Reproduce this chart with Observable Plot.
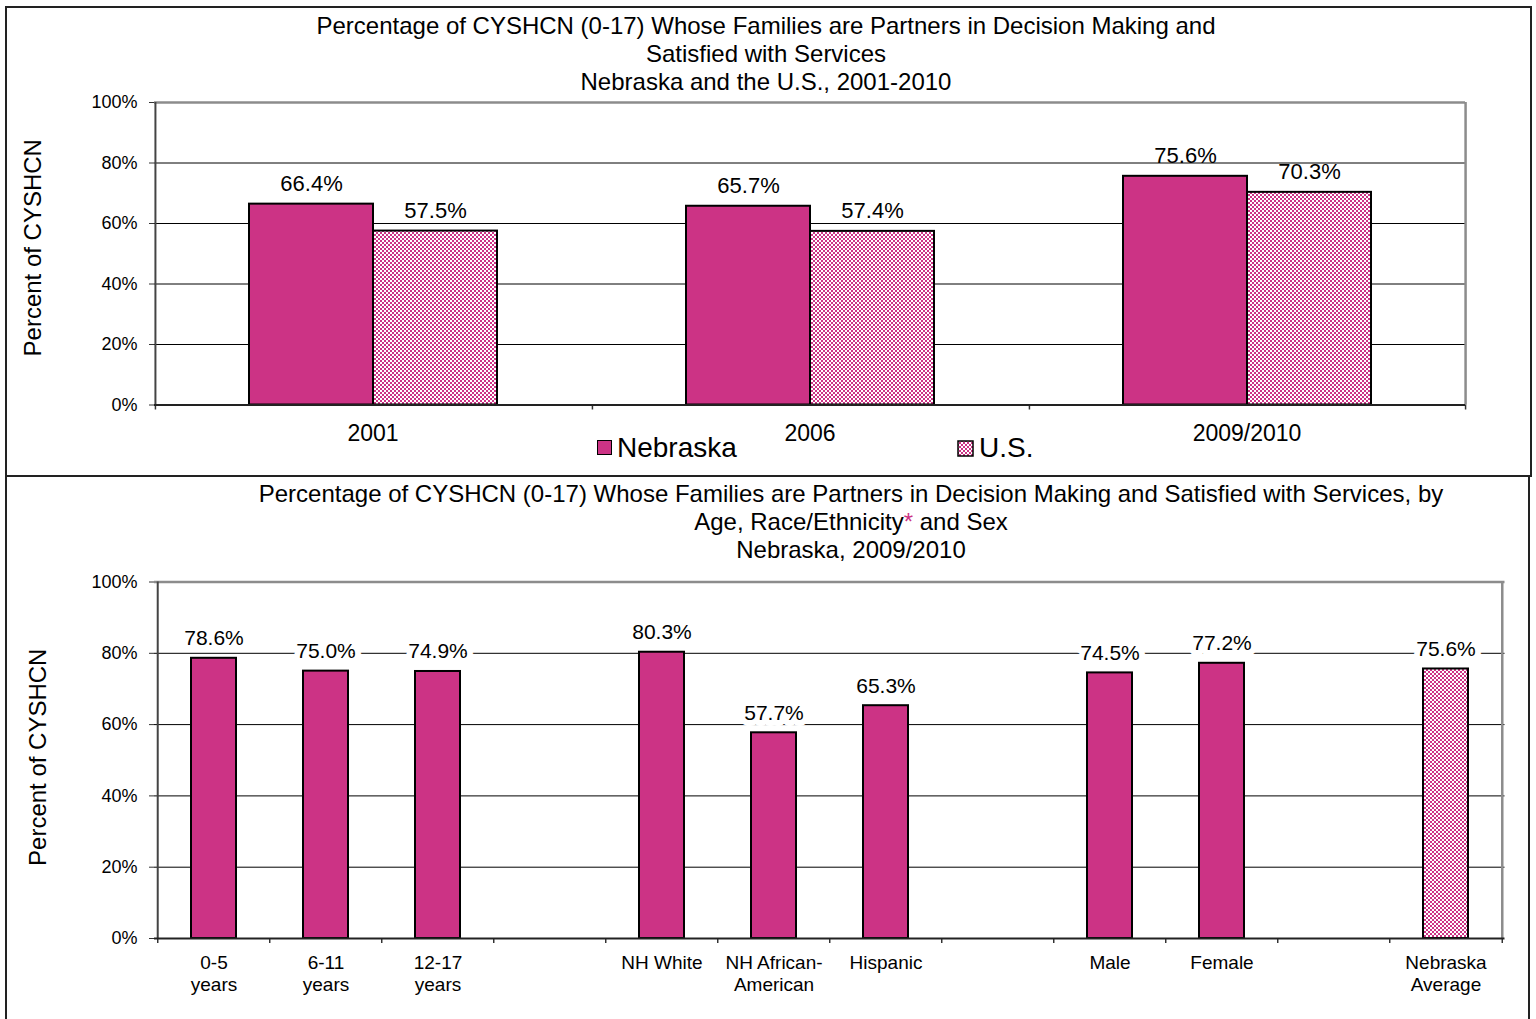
<!DOCTYPE html>
<html>
<head>
<meta charset="utf-8">
<script src="https://cdn.jsdelivr.net/npm/d3@7"></script>
<script src="https://cdn.jsdelivr.net/npm/@observablehq/plot@0.6"></script>
<style>
  html, body { margin: 0; padding: 0; background: #fff; }
  body { width: 1536px; height: 1019px; position: relative; overflow: hidden;
         font-family: "Liberation Sans", Arial, sans-serif; color: #000; }
  .abs { position: absolute; }
  .title { text-align: center; font-size: 24px; line-height: 27.8px; white-space: nowrap; }
  .legtxt { font-size: 28px; line-height: 32px; white-space: nowrap; }
</style>
</head>
<body>
<svg class="abs" width="0" height="0" style="left:0;top:0">
  <defs>
    <pattern id="usPattern" width="4" height="4" patternUnits="userSpaceOnUse">
      <rect width="4" height="4" fill="#fff"></rect>
      <path fill="#CC3385" d="M0,0h2v2h-2zM2,2h2v2h-2z"></path>
    </pattern>
  </defs>
</svg>

<!-- panel borders -->
<div class="abs" style="left:5px;top:6px;width:1523px;height:467px;border:2px solid #222;"></div>
<div class="abs" style="left:5px;top:475px;width:1521px;height:560px;border-left:2px solid #222;border-right:2px solid #222;"></div>

<div class="abs title" style="left:266px;width:1000px;top:12px;">Percentage of CYSHCN (0-17) Whose Families are Partners in Decision Making and<br>Satisfied with Services<br>Nebraska and the U.S., 2001-2010</div>
<div class="abs title" style="left:251px;width:1200px;top:480px;">Percentage of CYSHCN (0-17) Whose Families are Partners in Decision Making and Satisfied with Services, by<br>Age, Race/Ethnicity<span style="color:#CC3385">*</span> and Sex<br>Nebraska, 2009/2010</div>

<div id="top" class="abs" style="left:0;top:92px;"></div>
<div id="bottom" class="abs" style="left:0;top:571px;"></div>

<!-- legend -->
<div class="abs" style="left:597px;top:440px;width:13px;height:13px;background:#CC3385;border:1.5px solid #000;"></div>
<div class="abs legtxt" style="left:617px;top:432px;">Nebraska</div>
<svg class="abs" style="left:957px;top:440px;" width="17" height="17"><rect x="1" y="1" width="15" height="15" fill="url(#usPattern)" stroke="#000" stroke-width="1.5"></rect></svg>
<div class="abs legtxt" style="left:979px;top:432px;">U.S.</div>

<script>
// ---------- data ----------
const years = ["2001", "2006", "2009/2010"];
const seriesNames = ["Nebraska", "U.S."];
const nebraskaValues = [66.4, 65.7, 75.6];
const usValues = [57.5, 57.4, 70.3];

const groupCategories = ["0-5\nyears", "6-11\nyears", "12-17\nyears", " ",
  "NH White", "NH African-\nAmerican", "Hispanic", "  ",
  "Male", "Female", "   ", "Nebraska\nAverage"];
const groupValues = [78.6, 75.0, 74.9, null, 80.3, 57.7, 65.3, null, 74.5, 77.2, null, 75.6];
const groupKinds = ["subgroup", "subgroup", "subgroup", null, "subgroup", "subgroup", "subgroup", null,
  "subgroup", "subgroup", null, "average"];

const yTicks = [0, 20, 40, 60, 80, 100];
const gridTicks = [20, 40, 60, 80];
const yLabel = "Percent of CYSHCN";

const MAGENTA = "#CC3385";
const pct = d => d.toFixed(1) + "%";
const FONT = "'Liberation Sans', Arial, sans-serif";

// ---------- top chart ----------
const topData = years.flatMap((yr, i) => [
  {year: yr, series: seriesNames[0], value: nebraskaValues[i]},
  {year: yr, series: seriesNames[1], value: usValues[i]}
]);

{
  const W = 1536, mL = 154, mR = 71, mT = 10, mB = 50.5, H = 363;
  const facetW = (W - mL - mR) / years.length;
  const s = facetW / 3.5;       // band step inside a facet
  const edge = 1.25 * s;        // offset from a band centre to the facet edge
  const plotH = H - mT - mB;
  const tickLen = 5 / plotH * 100;

  const chart = Plot.plot({
    width: W, height: H, marginLeft: mL, marginRight: mR, marginTop: mT, marginBottom: mB,
    style: {fontFamily: FONT, fontSize: "18px", color: "#000", background: "transparent", overflow: "visible"},
    fx: {domain: years, padding: 0},
    x: {domain: seriesNames, paddingInner: 0, paddingOuter: 0.75, axis: null},
    y: {domain: [0, 100]},
    color: {domain: seriesNames, range: [MAGENTA, "url(#usPattern)"]},
    marks: [
      Plot.gridY(gridTicks, {stroke: "#000", strokeOpacity: 1, strokeWidth: 1}),
      Plot.ruleY([100], {stroke: "#8c8c8c", strokeWidth: 2.5}),
      Plot.ruleX([years[years.length - 1]], {fx: d => d, x: () => seriesNames[1], dx: edge, stroke: "#8c8c8c", strokeWidth: 2.5}),
      Plot.ruleX([years[0]], {fx: d => d, x: () => seriesNames[0], dx: -edge, stroke: "#444", strokeWidth: 2}),
      Plot.ruleX(years, {fx: d => d, x: () => seriesNames[0], dx: -edge, y1: () => 0, y2: () => -tickLen, stroke: "#333", strokeWidth: 1.5}),
      Plot.ruleX([years[years.length - 1]], {fx: d => d, x: () => seriesNames[1], dx: edge, y1: () => 0, y2: () => -tickLen, stroke: "#333", strokeWidth: 1.5}),
      Plot.barY(topData, {fx: "year", x: "series", y: "value", fill: "series", stroke: "#000", strokeWidth: 2}),
      Plot.ruleY([0], {stroke: "#222", strokeWidth: 2}),
      Plot.text(topData, {fx: "year", x: "series", y: "value", text: d => pct(d.value), lineAnchor: "bottom", dy: -13, fontSize: 22, fill: "#000"}),
      Plot.axisY(yTicks, {tickFormat: d => d + "%", tickSize: 5, tickPadding: 12, fontSize: 18, label: null, stroke: "#333"}),
      Plot.axisFx({anchor: "bottom", tickSize: 0, tickPadding: 20, fontSize: 23, label: null}),
      Plot.text([years[0]], {fx: d => d, text: () => yLabel, frameAnchor: "left", textAnchor: "middle", rotate: -90, dx: -(mL - 33), dy: -6, fontSize: 24, fill: "#000"})
    ]
  });
  document.getElementById("top").appendChild(chart);
}

// ---------- bottom chart ----------
const bottomData = groupCategories.map((c, i) => ({cat: c, value: groupValues[i], kind: groupKinds[i]}))
  .filter(d => d.value != null);

{
  const W = 1536, mL = 154, mR = 31.5, mT = 10.5, mB = 70, H = 437;
  const step = (W - mL - mR) / groupCategories.length;
  const plotH = H - mT - mB;
  const tickLen = 5 / plotH * 100;
  const first = groupCategories[0], last = groupCategories[groupCategories.length - 1];

  const chart = Plot.plot({
    width: W, height: H, marginLeft: mL, marginRight: mR, marginTop: mT, marginBottom: mB,
    style: {fontFamily: FONT, fontSize: "18px", color: "#000", background: "transparent", overflow: "visible"},
    x: {domain: groupCategories, paddingInner: 0.6, paddingOuter: 0.3},
    y: {domain: [0, 100]},
    color: {domain: ["subgroup", "average"], range: [MAGENTA, "url(#usPattern)"]},
    marks: [
      Plot.gridY(gridTicks, {stroke: "#000", strokeOpacity: 1, strokeWidth: 1}),
      Plot.ruleY([100], {stroke: "#8c8c8c", strokeWidth: 2.5}),
      Plot.ruleX([last], {x: d => d, dx: step / 2, stroke: "#8c8c8c", strokeWidth: 2.5}),
      Plot.ruleX([first], {x: d => d, dx: -step / 2, stroke: "#444", strokeWidth: 2}),
      Plot.ruleX(groupCategories, {x: d => d, dx: -step / 2, y1: () => 0, y2: () => -tickLen, stroke: "#333", strokeWidth: 1.5}),
      Plot.ruleX([last], {x: d => d, dx: step / 2, y1: () => 0, y2: () => -tickLen, stroke: "#333", strokeWidth: 1.5}),
      Plot.barY(bottomData, {x: "cat", y: "value", fill: "kind", stroke: "#000", strokeWidth: 2}),
      Plot.ruleY([0], {stroke: "#222", strokeWidth: 2}),
      Plot.text(bottomData, {x: "cat", y: "value", text: d => pct(d.value), lineAnchor: "bottom", dy: -13, fontSize: 21, fill: "#000",
        stroke: "#fff", strokeWidth: 12, paintOrder: "stroke"}),
      Plot.axisY(yTicks, {tickFormat: d => d + "%", tickSize: 5, tickPadding: 12, fontSize: 18, label: null, stroke: "#333"}),
      Plot.axisX({tickSize: 0, tickPadding: 15, fontSize: 19, lineHeight: 1.16, label: null}),
      Plot.text([yLabel], {text: d => d, frameAnchor: "left", textAnchor: "middle", rotate: -90, dx: -(mL - 38), dy: -3, fontSize: 24, fill: "#000"})
    ]
  });
  document.getElementById("bottom").appendChild(chart);
}
</script>
</body>
</html>
